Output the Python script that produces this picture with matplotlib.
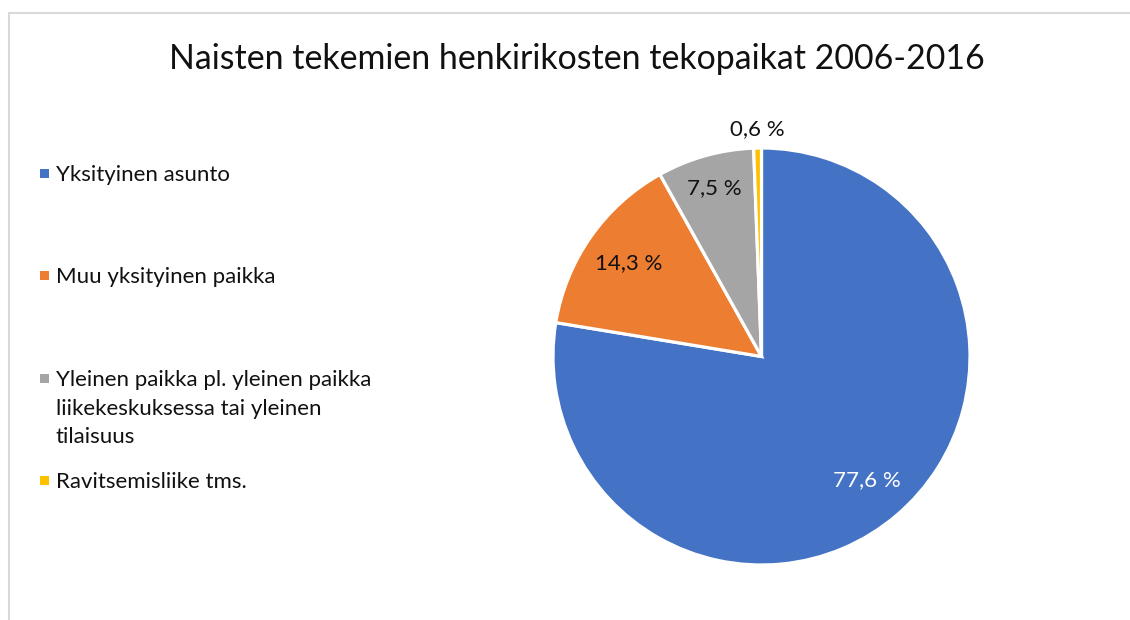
import matplotlib
matplotlib.use("Agg")
import matplotlib.pyplot as plt
from matplotlib.patches import Rectangle
import numpy as np

title = "Naisten tekemien henkirikosten tekopaikat 2006-2016"
categories = ["Yksityinen asunto", "Muu yksityinen paikka",
              "Yleinen paikka pl. yleinen paikka\nliikekeskuksessa tai yleinen\ntilaisuus",
              "Ravitsemisliike tms."]
values = [77.6, 14.3, 7.5, 0.6]
colors = ["#4472C4", "#ED7D31", "#A5A5A5", "#FFC000"]
label_colors = ["white", "#111111", "#111111", "#111111"]
label_dist = [0.78, 0.78, 0.84, 1.09]
legend_baseline = [181, 283, 386, 488]

plt.rcParams['font.family'] = ['Lato', 'DejaVu Sans']

W, H = 1130, 620
fig = plt.figure(figsize=(W / 100, H / 100), dpi=100)

# chart border (light gray)
fig.patches.append(Rectangle((8.5 / W, -0.1), 1.2, (H - 13) / H + 0.1,
                             transform=fig.transFigure, fill=False,
                             edgecolor="#d9d9d9", linewidth=1.5))

fig.text(577 / W, 1 - 69 / H, title, ha="center", va="baseline",
         fontsize=24.4, color="#111111")

cx, cy, r = 761.5, 356.5, 208.5
ax = fig.add_axes([(cx - r) / W, (H - cy - r) / H, 2 * r / W, 2 * r / H])
wedges, _ = ax.pie(values, colors=colors, startangle=90, counterclock=False,
                   wedgeprops=dict(edgecolor="white", linewidth=2.3))
ax.set_xlim(-1, 1)
ax.set_ylim(-1, 1)
ax.set_aspect("equal")
ax.axis("off")

for w, v, c, d in zip(wedges, values, label_colors, label_dist):
    ang = np.deg2rad((w.theta1 + w.theta2) / 2)
    ax.text(d * np.cos(ang), d * np.sin(ang), f"{v:.1f} %".replace(".", ","),
            ha="center", va="center", fontsize=16, color=c, clip_on=False)

# legend
line_step = 28.7
for lab, col, yb in zip(categories, colors, legend_baseline):
    fig.patches.append(Rectangle((39.5 / W, 1 - (yb - 3.5) / H), 9 / W, 9 / H,
                                 transform=fig.transFigure, facecolor=col,
                                 edgecolor="none"))
    for i, line in enumerate(lab.split("\n")):
        fig.text(56 / W, 1 - (yb + i * line_step) / H, line, ha="left",
                 va="baseline", fontsize=16, color="#111111")

fig.savefig("out.png", dpi=100)
